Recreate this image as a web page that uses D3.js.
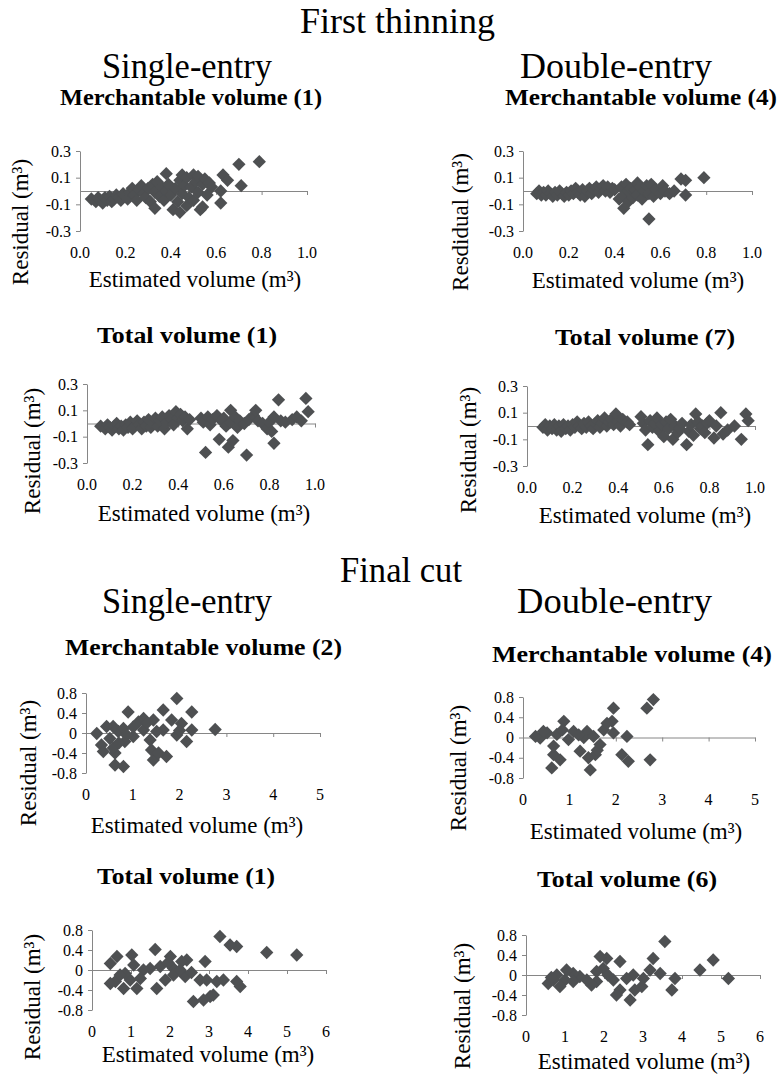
<!doctype html>
<html lang="en">
<head>
<meta charset="utf-8" />
<title>Residual plots</title>
<script src="https://d3js.org/d3.v7.min.js"></script>
<style>
  body { margin: 0; background: #fff; }
  svg text { font-family: "Liberation Serif", "Times New Roman", serif; }
</style>
</head>
<body>
<div id="chart"></div>
<script>
// tick values and labels
var ftXTicks = [0, 0.2, 0.4, 0.6, 0.8, 1.0];
var ftXLabels = ["0.0", "0.2", "0.4", "0.6", "0.8", "1.0"];
var ftYTicks = [-0.3, -0.1, 0.1, 0.3];
var ftYLabels = ["-0.3", "-0.1", "0.1", "0.3"];
var fcYTicks = [-0.8, -0.4, 0, 0.4, 0.8];
var fcYLabels = ["-0.8", "-0.4", "0", "0.4", "0.8"];
var fcXTicks5 = [0, 1, 2, 3, 4, 5];
var fcXLabels5 = ["0", "1", "2", "3", "4", "5"];
var fcXTicks6 = [0, 1, 2, 3, 4, 5, 6];
var fcXLabels6 = ["0", "1", "2", "3", "4", "5", "6"];

// first thinning, single-entry, merchantable volume (1) : [estimated, residual]
var ftSingleMerch = [[0.05,-0.06],[0.07,-0.08],[0.08,-0.05],[0.09,-0.07],[0.1,-0.09],[0.11,-0.05],[0.12,-0.07],[0.13,-0.04],[0.14,-0.08],[0.15,-0.06],[0.16,-0.03],[0.17,-0.05],[0.18,-0.07],[0.19,-0.02],[0.2,-0.04],[0.21,-0.06],[0.22,-0.01],[0.23,0.02],[0.24,-0.03],[0.25,-0.07],[0.26,0.01],[0.27,0.04],[0.28,-0.02],[0.29,-0.05],[0.3,0.02],[0.31,-0.08],[0.32,0.05],[0.33,-0.13],[0.33,-0.01],[0.34,0.07],[0.35,-0.04],[0.36,0.03],[0.37,-0.07],[0.38,0.13],[0.38,0.0],[0.39,0.05],[0.4,-0.03],[0.41,-0.14],[0.42,0.02],[0.43,-0.08],[0.44,0.08],[0.44,-0.16],[0.45,0.12],[0.45,-0.02],[0.46,0.04],[0.47,-0.11],[0.47,0.1],[0.48,-0.05],[0.49,0.03],[0.5,0.12],[0.5,-0.07],[0.51,0.07],[0.52,-0.01],[0.52,0.11],[0.53,-0.14],[0.54,0.05],[0.54,-0.12],[0.55,0.09],[0.56,-0.03],[0.57,0.06],[0.58,0.03],[0.62,0.0],[0.62,-0.09],[0.63,0.12],[0.65,0.08],[0.7,0.2],[0.71,0.04],[0.79,0.22]];

// first thinning, double-entry, merchantable volume (4)
var ftDoubleMerch = [[0.06,-0.02],[0.07,0.0],[0.08,-0.03],[0.09,-0.01],[0.1,-0.03],[0.11,0.0],[0.12,-0.02],[0.13,-0.04],[0.14,-0.01],[0.15,-0.03],[0.16,0.0],[0.17,-0.02],[0.18,-0.04],[0.19,-0.01],[0.2,-0.03],[0.21,0.0],[0.22,-0.02],[0.23,0.02],[0.24,-0.01],[0.25,-0.03],[0.26,0.01],[0.27,-0.04],[0.28,0.0],[0.29,0.02],[0.3,-0.02],[0.31,0.01],[0.32,0.03],[0.33,-0.01],[0.34,0.02],[0.35,0.04],[0.36,0.0],[0.37,0.03],[0.38,-0.01],[0.39,0.02],[0.4,0.01],[0.42,-0.06],[0.43,0.03],[0.44,-0.13],[0.44,-0.03],[0.45,0.05],[0.46,-0.08],[0.46,0.0],[0.47,0.02],[0.48,-0.05],[0.49,0.01],[0.5,0.06],[0.5,-0.03],[0.51,0.03],[0.52,-0.06],[0.53,0.0],[0.54,0.04],[0.55,-0.21],[0.55,-0.02],[0.56,0.05],[0.57,-0.04],[0.58,0.01],[0.6,-0.02],[0.61,0.04],[0.62,0.0],[0.64,-0.02],[0.66,0.0],[0.69,0.09],[0.71,-0.03],[0.71,0.08],[0.79,0.1]];

// first thinning, single-entry, total volume (1)
var ftSingleTotal = [[0.06,-0.02],[0.08,-0.04],[0.09,-0.01],[0.1,-0.03],[0.11,-0.05],[0.12,-0.02],[0.13,0.0],[0.14,-0.04],[0.15,-0.02],[0.16,-0.05],[0.17,-0.01],[0.18,-0.03],[0.19,0.01],[0.2,-0.04],[0.21,-0.02],[0.22,0.02],[0.23,-0.01],[0.24,-0.04],[0.25,0.01],[0.26,-0.02],[0.27,0.03],[0.28,-0.03],[0.29,0.0],[0.3,0.04],[0.31,-0.02],[0.32,0.02],[0.33,0.05],[0.34,-0.04],[0.35,0.01],[0.36,0.06],[0.37,0.03],[0.38,-0.01],[0.39,0.09],[0.4,0.04],[0.41,0.07],[0.42,0.02],[0.43,0.05],[0.44,-0.04],[0.45,0.03],[0.5,0.04],[0.51,0.01],[0.52,-0.22],[0.53,0.05],[0.54,-0.01],[0.55,0.03],[0.57,0.06],[0.58,-0.12],[0.59,0.02],[0.6,0.04],[0.61,-0.02],[0.62,-0.18],[0.63,0.1],[0.63,0.01],[0.64,-0.13],[0.65,0.05],[0.66,-0.03],[0.67,0.02],[0.69,0.0],[0.7,-0.24],[0.71,0.03],[0.73,0.06],[0.74,0.1],[0.75,0.02],[0.77,0.0],[0.79,-0.04],[0.8,0.01],[0.81,-0.06],[0.82,0.05],[0.82,-0.15],[0.84,0.18],[0.85,0.02],[0.87,0.01],[0.9,0.03],[0.92,0.05],[0.94,0.02],[0.96,0.19],[0.97,0.09]];

// first thinning, double-entry, total volume (7)
var ftDoubleTotal = [[0.07,-0.01],[0.08,0.01],[0.09,-0.03],[0.1,0.0],[0.11,-0.02],[0.12,0.01],[0.13,-0.03],[0.14,0.0],[0.15,-0.04],[0.16,0.01],[0.17,-0.02],[0.18,0.0],[0.19,-0.03],[0.2,0.01],[0.21,-0.01],[0.22,0.03],[0.23,0.0],[0.24,-0.02],[0.25,0.02],[0.26,-0.01],[0.27,0.03],[0.28,0.0],[0.29,-0.02],[0.3,0.02],[0.31,0.04],[0.32,-0.01],[0.33,0.02],[0.34,0.06],[0.35,0.0],[0.36,0.03],[0.37,0.05],[0.38,0.01],[0.39,0.09],[0.4,0.03],[0.41,0.0],[0.42,0.05],[0.44,0.03],[0.45,0.01],[0.5,0.07],[0.51,0.02],[0.52,-0.03],[0.53,-0.14],[0.54,0.04],[0.55,-0.01],[0.56,0.02],[0.57,0.06],[0.58,-0.04],[0.59,0.01],[0.6,-0.08],[0.61,0.03],[0.62,-0.02],[0.63,0.05],[0.64,-0.1],[0.65,0.0],[0.66,-0.05],[0.67,-0.02],[0.68,0.02],[0.7,-0.14],[0.71,-0.04],[0.72,0.01],[0.73,-0.07],[0.74,0.09],[0.75,0.03],[0.76,-0.02],[0.77,0.0],[0.78,-0.05],[0.79,0.02],[0.8,0.04],[0.82,-0.09],[0.83,0.0],[0.85,0.1],[0.86,-0.06],[0.88,-0.03],[0.91,0.0],[0.94,-0.1],[0.96,0.09],[0.97,0.04]];

// final cut, single-entry, merchantable volume (2)
var fcSingleMerch = [[1.94,0.69],[2.26,0.42],[0.90,0.42],[2.76,0.07],[1.65,0.46],[1.83,0.26],[2.04,0.19],[2.26,0.06],[2.15,-0.17],[1.72,-0.47],[1.44,-0.54],[1.40,-0.34],[1.37,-0.14],[1.65,0.06],[1.94,-0.04],[1.44,0.26],[1.23,0.29],[1.12,0.22],[1.01,0.12],[1.23,0.06],[1.01,-0.07],[0.83,-0.17],[0.69,0.03],[0.58,0.13],[0.62,-0.40],[0.62,-0.64],[0.80,-0.67],[0.33,-0.24],[0.37,-0.37],[0.23,-0.01],[0.44,0.13],[0.51,-0.11],[0.58,-0.30],[0.80,0.09],[0.87,-0.04],[1.51,0.03],[1.30,0.20],[0.70,-0.20],[1.55,-0.40],[2.00,0.05]];

// final cut, double-entry, merchantable volume (4)
var fcDoubleMerch = [[2.81,0.75],[2.67,0.58],[2.74,-0.44],[1.95,0.58],[1.92,0.32],[2.24,0.02],[2.13,-0.34],[2.27,-0.47],[1.95,0.09],[1.74,0.15],[1.66,-0.14],[1.56,-0.34],[1.45,-0.64],[1.41,-0.40],[1.23,-0.27],[1.38,0.12],[1.31,0.0],[1.09,0.12],[0.98,-0.04],[0.88,0.32],[0.80,-0.44],[0.66,-0.34],[0.62,-0.60],[0.66,-0.17],[0.52,0.09],[0.37,-0.01],[0.27,0.02],[0.44,0.12],[0.73,0.06],[1.52,0.02],[1.81,0.28],[1.60,-0.25],[1.20,0.05],[0.85,0.15]];

// final cut, single-entry, total volume (1)
var fcSingleTotal = [[5.25,0.30],[4.48,0.35],[3.71,0.47],[3.54,0.50],[3.28,0.67],[3.80,-0.33],[3.71,-0.23],[3.37,-0.20],[3.20,-0.23],[2.94,-0.20],[2.90,0.17],[2.77,-0.20],[2.60,-0.63],[2.86,-0.60],[3.03,-0.53],[3.11,-0.50],[2.43,0.20],[2.30,0.17],[2.39,-0.13],[2.09,0.03],[2.01,0.27],[1.88,-0.20],[1.75,0.07],[1.66,-0.37],[1.62,0.41],[1.49,0.03],[1.32,0.0],[1.15,-0.37],[1.07,0.10],[1.02,0.30],[0.98,-0.20],[0.85,-0.07],[0.81,-0.37],[0.64,0.27],[0.60,-0.23],[0.47,0.13],[0.47,-0.27],[1.24,-0.17],[2.09,-0.10],[2.26,0.0],[1.95,0.15],[0.72,-0.10],[2.55,-0.05]];

// final cut, double-entry, total volume (6)
var fcDoubleTotal = [[3.56,0.67],[3.26,0.33],[4.80,0.30],[4.46,0.10],[5.19,-0.07],[3.82,-0.07],[3.74,-0.30],[3.44,0.03],[3.18,0.10],[3.01,-0.07],[2.97,-0.23],[2.79,-0.30],[2.67,-0.50],[2.75,0.0],[2.58,-0.07],[2.41,-0.30],[2.32,-0.40],[2.41,0.27],[2.24,-0.10],[2.07,0.33],[1.90,0.37],[1.98,0.13],[1.81,0.07],[1.81,-0.13],[1.68,-0.20],[1.56,-0.10],[1.38,-0.03],[1.21,0.03],[1.04,0.10],[1.00,-0.10],[0.87,-0.23],[0.70,-0.10],[0.57,-0.17],[0.79,0.0],[1.21,-0.13],[2.10,0.0],[0.65,-0.05]];

var width = 779, height = 1075;
var axisColor = "#868686", markColor = "#4e5052";
var serif = "'Liberation Serif', 'Times New Roman', serif";

var svg = d3.select("#chart").append("svg")
    .attr("width", width)
    .attr("height", height);

// headings: text, left x, baseline, width, size, weight
var headings = [
    ["First thinning", 300, 33, 195, 35, "normal"],
    ["Single-entry", 102, 78, 170, 35, "normal"],
    ["Double-entry", 520, 78, 192, 35, "normal"],
    ["Merchantable volume (1)", 60, 105, 262, 23, "bold"],
    ["Merchantable volume (4)", 505, 105, 272, 23, "bold"],
    ["Total volume (1)", 97, 343, 180, 23, "bold"],
    ["Total volume (7)", 555, 345, 180, 23, "bold"],
    ["Final cut", 340, 582, 122, 35, "normal"],
    ["Single-entry", 102, 613, 170, 35, "normal"],
    ["Double-entry", 517, 613, 195, 35, "normal"],
    ["Merchantable volume (2)", 65, 655, 277, 23, "bold"],
    ["Merchantable volume (4)", 492, 662, 280, 23, "bold"],
    ["Total volume (1)", 97, 884, 178, 23, "bold"],
    ["Total volume (6)", 537, 887, 180, 23, "bold"]
];

svg.selectAll(".heading")
    .data(headings)
    .enter().append("text")
    .attr("class", "heading")
    .attr("x", d => d[1])
    .attr("y", d => d[2])
    .attr("textLength", d => d[3])
    .attr("lengthAdjust", "spacingAndGlyphs")
    .style("font-family", serif)
    .style("font-size", d => d[4] + "px")
    .style("font-weight", d => d[5])
    .text(d => d[0]);

var panels = [
    { data: ftSingleMerch, x0: 80, x1: 307, yTop: 151, yBot: 231, xDomain: [0, 1], yDomain: [-0.3, 0.3],
      xTicks: ftXTicks, xLabels: ftXLabels, yTicks: ftYTicks, yLabels: ftYLabels,
      yTitle: "Residual (m³)", yTitleX: 20, yTitleY: 222, xTitleX: 195, xTitleY: 287 },
    { data: ftDoubleMerch, x0: 523, x1: 752, yTop: 151, yBot: 231, xDomain: [0, 1], yDomain: [-0.3, 0.3],
      xTicks: ftXTicks, xLabels: ftXLabels, yTicks: ftYTicks, yLabels: ftYLabels,
      yTitle: "Resdidual (m³)", yTitleX: 460, yTitleY: 222, xTitleX: 638, xTitleY: 288 },
    { data: ftSingleTotal, x0: 87, x1: 315, yTop: 384, yBot: 463, xDomain: [0, 1], yDomain: [-0.3, 0.3],
      xTicks: ftXTicks, xLabels: ftXLabels, yTicks: ftYTicks, yLabels: ftYLabels,
      yTitle: "Residual (m³)", yTitleX: 32, yTitleY: 451, xTitleX: 204, xTitleY: 521 },
    { data: ftDoubleTotal, x0: 527, x1: 755, yTop: 386, yBot: 466, xDomain: [0, 1], yDomain: [-0.3, 0.3],
      xTicks: ftXTicks, xLabels: ftXLabels, yTicks: ftYTicks, yLabels: ftYLabels,
      yTitle: "Residual (m³)", yTitleX: 468, yTitleY: 450, xTitleX: 645, xTitleY: 523 },
    { data: fcSingleMerch, x0: 86, x1: 320, yTop: 693, yBot: 773, xDomain: [0, 5], yDomain: [-0.8, 0.8],
      xTicks: fcXTicks5, xLabels: fcXLabels5, yTicks: fcYTicks, yLabels: fcYLabels,
      yTitle: "Residual (m³)", yTitleX: 28, yTitleY: 763, xTitleX: 197, xTitleY: 833 },
    { data: fcDoubleMerch, x0: 523, x1: 755, yTop: 697, yBot: 778, xDomain: [0, 5], yDomain: [-0.8, 0.8],
      xTicks: fcXTicks5, xLabels: fcXLabels5, yTicks: fcYTicks, yLabels: fcYLabels,
      yTitle: "Residual (m³)", yTitleX: 458, yTitleY: 768, xTitleX: 636, xTitleY: 839 },
    { data: fcSingleTotal, x0: 92, x1: 326, yTop: 930, yBot: 1010, xDomain: [0, 6], yDomain: [-0.8, 0.8],
      xTicks: fcXTicks6, xLabels: fcXLabels6, yTicks: fcYTicks, yLabels: fcYLabels,
      yTitle: "Residual (m³)", yTitleX: 32, yTitleY: 997, xTitleX: 208, xTitleY: 1062 },
    { data: fcDoubleTotal, x0: 526, x1: 760, yTop: 935, yBot: 1015, xDomain: [0, 6], yDomain: [-0.8, 0.8],
      xTicks: fcXTicks6, xLabels: fcXLabels6, yTicks: fcYTicks, yLabels: fcYLabels,
      yTitle: "Residual (m³)", yTitleX: 462, yTitleY: 1006, xTitleX: 644, xTitleY: 1069 }
];

var diamond = d3.symbol().type(d3.symbolSquare).size(88)();

panels.forEach(function (p) {
    var x = d3.scaleLinear().domain(p.xDomain).range([p.x0, p.x1]);
    var y = d3.scaleLinear().domain(p.yDomain).range([p.yBot, p.yTop]);
    var g = svg.append("g");

    // Y axis with labels
    var yAxis = d3.axisLeft(y)
        .tickValues(p.yTicks)
        .tickSize(4)
        .tickSizeOuter(0)
        .tickPadding(5)
        .tickFormat((d, i) => p.yLabels[i]);
    var ya = g.append("g")
        .attr("transform", `translate(${p.x0},0)`)
        .call(yAxis);

    // X axis line crossing at zero
    var xAxis = d3.axisBottom(x)
        .tickValues(p.xTicks)
        .tickSize(4)
        .tickSizeOuter(0)
        .tickFormat("");
    var xa = g.append("g")
        .attr("transform", `translate(0,${y(0)})`)
        .call(xAxis);

    [ya, xa].forEach(function (a) {
        a.attr("font-family", null).attr("font-size", null);
        a.select(".domain").attr("stroke", axisColor);
        a.selectAll(".tick line").attr("stroke", axisColor);
        a.selectAll(".tick text").attr("fill", "#000")
            .style("font-family", serif).style("font-size", "16px");
    });

    // X tick labels at the bottom of the plot
    g.selectAll(".xlab")
        .data(p.xTicks)
        .enter().append("text")
        .attr("class", "xlab")
        .attr("x", d => x(d))
        .attr("y", p.yBot + 27)
        .attr("text-anchor", "middle")
        .style("font-family", serif)
        .style("font-size", "16px")
        .text((d, i) => p.xLabels[i]);

    // axis titles
    g.append("text")
        .attr("x", p.xTitleX)
        .attr("y", p.xTitleY)
        .attr("text-anchor", "middle")
        .style("font-family", serif)
        .style("font-size", "23px")
        .text("Estimated volume (m³)");

    g.append("text")
        .attr("transform", `translate(${p.yTitleX},${p.yTitleY}) rotate(-90)`)
        .attr("text-anchor", "middle")
        .attr("dy", "0.35em")
        .style("font-family", serif)
        .style("font-size", "23px")
        .text(p.yTitle);

    // residual points
    g.selectAll(".pt")
        .data(p.data)
        .enter().append("path")
        .attr("class", "pt")
        .attr("d", diamond)
        .attr("fill", markColor)
        .attr("transform", d => `translate(${x(d[0])},${y(d[1])}) rotate(45)`);
});
</script>
</body>
</html>
